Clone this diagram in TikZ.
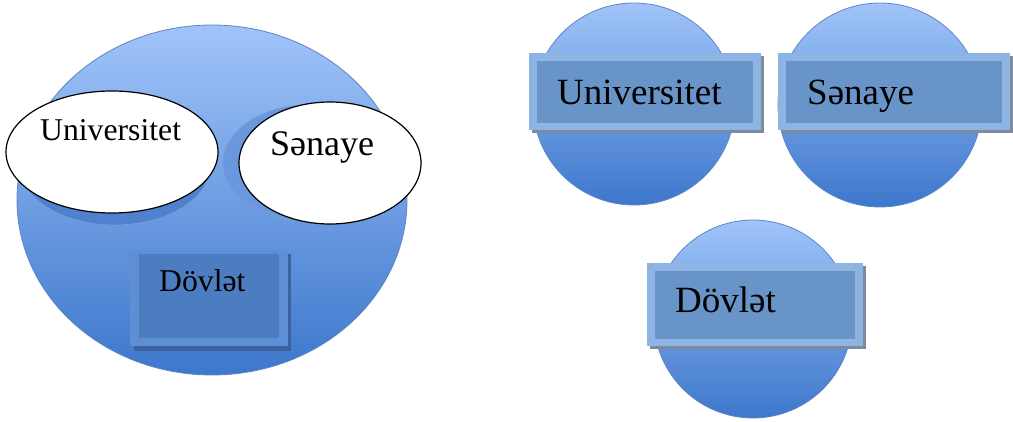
\documentclass[tikz,border=0pt]{standalone}
\usepackage{fontspec}
\setmainfont{Liberation Serif}
\usetikzlibrary{shapes.geometric}
\definecolor{ctop}{HTML}{A0C4F9}
\definecolor{cbot}{HTML}{3D77CC}
\definecolor{cline}{HTML}{5F86C2}
\definecolor{rout}{HTML}{8DB4E3}
\definecolor{rin}{HTML}{6894C8}
\definecolor{rsh}{HTML}{7D8B9C}
\definecolor{dout}{HTML}{5E8FD4}
\definecolor{din}{HTML}{4C7DC0}
\definecolor{dsh}{HTML}{3A629E}
\definecolor{eshl}{HTML}{4F82CE}
\definecolor{eshr}{HTML}{6A98DE}
\tikzset{
  ball/.style={ellipse, draw=cline, line width=0.8pt, top color=ctop, bottom color=cbot, inner sep=0pt},
  whiteell/.style={ellipse, draw=black, line width=1.2pt, fill=white, inner sep=0pt},
  shadowell/.style={ellipse, draw=cline!80, line width=0.6pt, fill=#1, inner sep=0pt},
  lbl/.style={anchor=base west, inner sep=0pt, text=black},
}
\begin{document}
\begin{tikzpicture}[x=1pt,y=-1pt]
\useasboundingbox[fill=white] (0,0) rectangle (1013,422);
% ---------- left figure ----------
\node[ball, minimum width=390pt, minimum height=350pt] (big) at (212,200) {};
\node[shadowell=eshl, minimum width=190pt, minimum height=118pt] (ushad) at (115,166) {};
\node[shadowell=eshr, minimum width=170pt, minimum height=116pt] (sshad) at (308,163) {};
\node[whiteell, minimum width=212pt, minimum height=122pt] (uell) at (112,152) {};
\node[whiteell, minimum width=182pt, minimum height=122pt] (sell) at (330,163) {};
\node[lbl, font=\fontsize{31.7}{36}\selectfont] (utxt) at (40,141) {Universitet};
\node[lbl, font=\fontsize{36}{40}\selectfont] (stxt) at (270,156) {Sənaye};
% Dovlet box left
\fill[dsh] (134,254) rectangle (291,351);
\node[draw=none, fill=dout, minimum width=158pt, minimum height=96pt, inner sep=0pt] (dbox) at (209,298) {};
\node[draw=none, fill=din, minimum width=140pt, minimum height=84pt, inner sep=0pt] (dinner) at (209,296) {};
\node[lbl, font=\fontsize{31.7}{36}\selectfont] (dtxt) at (159,292) {Dövlət};
% ---------- right figure ----------
\node[ball, minimum size=202pt] (c1) at (634,104) {};
\node[ball, minimum size=204pt] (c2) at (880,105) {};
\node[ball, minimum size=198pt] (c3) at (753,319) {};
% rectangles with shadow
\foreach \nm/\xa/\ya/\xb/\yb in {r1/529/53/761/130, r2/778/53/1010/130, r3/647/263/863/346}{
  \fill[rsh] (\xa+3,\ya+3) rectangle (\xb+3,\yb+3);
  \fill[rout] (\xa,\ya) rectangle (\xb,\yb);
  \fill[rin] (\xa+8,\ya+8) rectangle (\xb-8,\yb-7);
}
\node[lbl, font=\fontsize{37}{42}\selectfont] (t1) at (557,105) {Universitet};
\node[lbl, font=\fontsize{37}{42}\selectfont] (t2) at (807,105) {Sənaye};
\node[lbl, font=\fontsize{37}{42}\selectfont] (t3) at (675,313) {Dövlət};
\end{tikzpicture}
\end{document}
